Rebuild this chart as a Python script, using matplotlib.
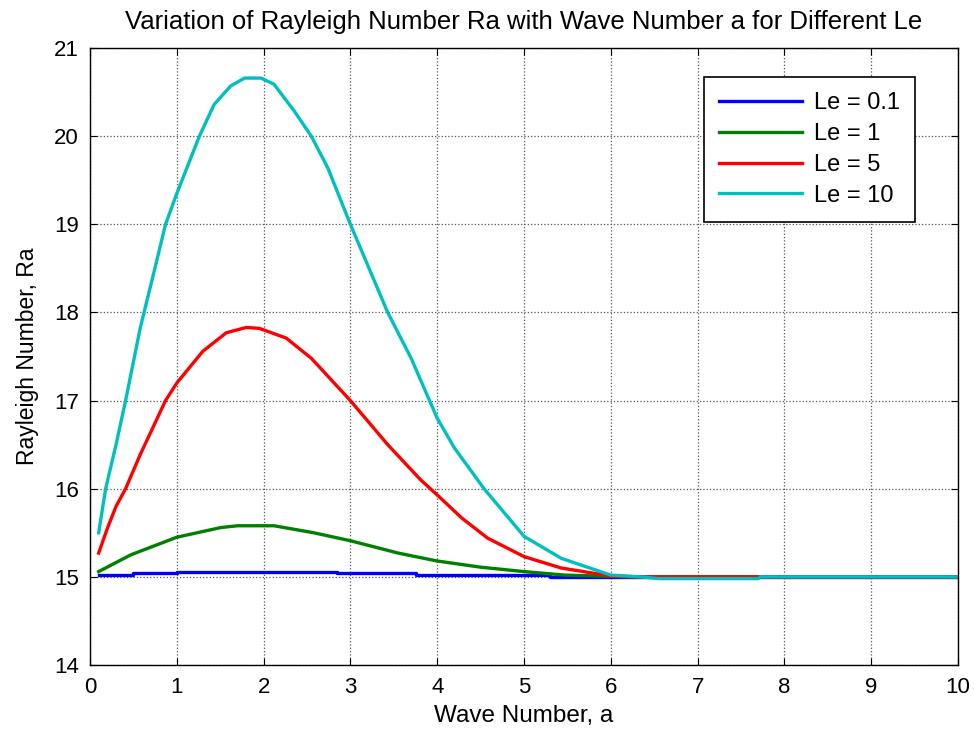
import matplotlib
matplotlib.use('Agg')
import matplotlib.pyplot as plt

plt.rcParams['font.family'] = ['Liberation Sans', 'DejaVu Sans']

# Le = 0.1 (nearly flat, small steps)
a_01 = [0.1, 0.5, 1.0, 2.85, 3.75, 5.3, 10.0]
ra_01 = [15.02, 15.04, 15.06, 15.04, 15.02, 15.00, 15.00]

# Le = 1
a_1 = [0.10, 0.47, 1.00, 1.51, 1.70, 2.12, 2.58, 3.00, 3.55, 4.00, 4.50,
       5.00, 5.47, 6.20, 10.0]
ra_1 = [15.06, 15.25, 15.45, 15.56, 15.58, 15.58, 15.50, 15.41, 15.27, 15.18,
        15.11, 15.06, 15.02, 15.00, 15.00]

# Le = 5
a_5 = [0.10, 0.20, 0.30, 0.41, 0.58, 0.87, 1.00, 1.30, 1.57, 1.80, 1.95,
       2.26, 2.55, 3.00, 3.43, 3.81, 4.00, 4.28, 4.58, 5.00, 5.43, 6.00,
       6.30, 10.0]
ra_5 = [15.27, 15.55, 15.80, 16.00, 16.39, 17.00, 17.20, 17.56, 17.77, 17.83,
        17.82, 17.71, 17.48, 17.00, 16.50, 16.10, 15.93, 15.67, 15.44, 15.23,
        15.10, 15.01, 15.00, 15.00]

# Le = 10
a_10 = [0.10, 0.18, 0.30, 0.41, 0.58, 0.72, 0.87, 1.00, 1.26, 1.43, 1.62,
        1.78, 1.97, 2.12, 2.35, 2.55, 2.74, 3.00, 3.43, 3.70, 4.00, 4.20,
        4.54, 5.00, 5.43, 6.00, 6.35, 6.55, 7.70, 7.72, 10.0]
ra_10 = [15.50, 16.00, 16.50, 17.00, 17.83, 18.39, 19.00, 19.35, 20.00, 20.36,
         20.57, 20.66, 20.66, 20.59, 20.29, 20.00, 19.64, 19.00, 18.00, 17.48,
         16.80, 16.46, 16.00, 15.46, 15.21, 15.02, 15.00, 14.98, 14.98, 15.00,
         15.00]

fig = plt.figure(figsize=(9.74, 7.29), dpi=100)
ax = fig.add_axes([0.0924, 0.0878, 0.8912, 0.8462])

ax.plot(a_01, ra_01, color='#0000ff', lw=2.4, drawstyle='steps-post', label='Le = 0.1')
ax.plot(a_1, ra_1, color='#008000', lw=2.4, label='Le = 1')
ax.plot(a_5, ra_5, color='#ff0000', lw=2.4, label='Le = 5')
ax.plot(a_10, ra_10, color='#00bfbf', lw=2.4, label='Le = 10')

ax.set_xlim(0, 10)
ax.set_ylim(14, 21)
ax.set_xticks(range(0, 11))
ax.set_yticks(range(14, 22))
ax.grid(True, linestyle=':', color='#555555', linewidth=0.9)
ax.tick_params(direction='in', top=True, right=True, labelsize=16, length=5)
ax.tick_params(axis='x', pad=9)
ax.tick_params(axis='y', pad=8)
for s in ax.spines.values():
    s.set_linewidth(1.0)

ax.set_title('Variation of Rayleigh Number Ra with Wave Number a for Different Le',
             fontsize=18.5, pad=14)
ax.set_xlabel('Wave Number, a', fontsize=17.5, labelpad=5)
ax.set_ylabel('Rayleigh Number, Ra', fontsize=16.5, labelpad=11)

leg = ax.legend(loc='upper right', bbox_to_anchor=(0.9505, 0.953), fontsize=17,
                handlelength=3.5, fancybox=False, framealpha=1, edgecolor='black',
                borderaxespad=0, borderpad=0.65, labelspacing=0.37,
                handletextpad=0.5)
leg.get_frame().set_linewidth(1.2)

fig.savefig('out.png', dpi=100)
